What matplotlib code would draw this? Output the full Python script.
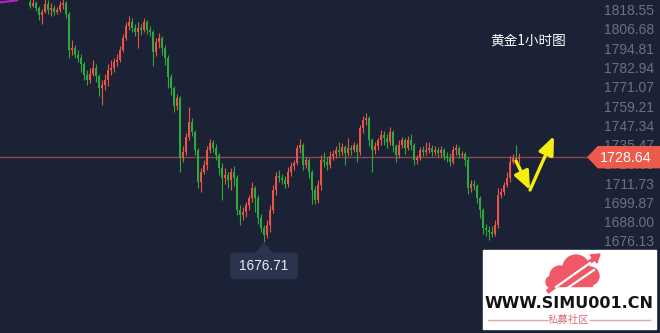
import matplotlib
matplotlib.use('Agg')
import matplotlib.pyplot as plt
import numpy as np
from matplotlib.patches import Polygon, FancyBboxPatch, Rectangle, Circle, FancyArrowPatch

# ---------------- data ----------------
first_open = 1824.2
closes = [1821.7, 1823.6, 1820.5, 1816.1, 1818.0, 1822.9, 1819.2, 1820.5, 1818.0, 1819.2,
          1822.3, 1823.6, 1816.7, 1794.6, 1795.9, 1791.5, 1789.7, 1786.0, 1779.2, 1776.2,
          1779.8, 1783.6, 1778.6, 1771.3, 1773.1, 1776.2, 1782.3, 1783.6, 1787.3, 1788.5,
          1794.6, 1802.0, 1809.4, 1811.9, 1808.2, 1805.7, 1808.2, 1806.9, 1811.9, 1806.9,
          1805.7, 1793.4, 1799.6, 1802.0, 1795.9, 1789.7, 1778.0, 1771.3, 1760.2, 1765.1,
          1728.2, 1731.9, 1741.1, 1750.3, 1744.2, 1733.1, 1713.4, 1719.6, 1723.8, 1733.1,
          1737.4, 1734.3, 1730.0, 1721.9, 1715.7, 1717.7, 1714.6, 1719.6, 1715.7, 1696.1,
          1693.0, 1694.9, 1699.2, 1703.6, 1709.7, 1703.6, 1691.2, 1685.1, 1680.7, 1686.9,
          1696.1, 1708.5, 1717.1, 1715.9, 1714.6, 1712.1, 1719.6, 1723.2, 1725.1, 1734.3,
          1736.1, 1723.8, 1726.9, 1719.6, 1708.5, 1702.3, 1711.5, 1726.9, 1725.7, 1723.8,
          1729.4, 1730.6, 1733.1, 1731.9, 1735.0, 1731.3, 1734.3, 1733.1, 1736.1, 1731.9,
          1746.6, 1751.5, 1752.8, 1739.2, 1733.1, 1735.5, 1739.2, 1742.3, 1740.5, 1738.0,
          1744.2, 1735.5, 1730.0, 1736.1, 1739.2, 1734.3, 1739.2, 1736.1, 1726.9, 1728.2,
          1733.1, 1731.9, 1733.1, 1734.3, 1731.9, 1733.1, 1731.3, 1733.1, 1729.4, 1728.2,
          1725.7, 1733.1, 1734.3, 1730.0, 1730.6, 1726.9, 1709.7, 1712.1, 1710.9, 1703.6,
          1696.1, 1685.1, 1683.8, 1682.6, 1681.3, 1686.9, 1705.4, 1707.3, 1711.5, 1715.7,
          1725.7, 1728.2, 1727.6, 1728.64]
highs = [1826.6, 1827.2, 1824.8, 1821.7, 1819.9, 1826.6, 1825.4, 1823.6, 1822.3, 1821.1,
         1824.8, 1826.6, 1824.8, 1818.0, 1800.8, 1797.7, 1794.6, 1792.1, 1787.3, 1782.3,
         1783.6, 1788.5, 1786.0, 1779.8, 1776.2, 1779.8, 1786.0, 1788.5, 1789.7, 1792.1,
         1797.1, 1804.5, 1811.9, 1815.5, 1814.3, 1810.6, 1811.9, 1810.6, 1814.3, 1813.1,
         1809.4, 1806.9, 1802.0, 1805.1, 1803.2, 1797.7, 1791.5, 1779.8, 1772.5, 1767.5,
         1766.3, 1735.5, 1743.6, 1759.5, 1752.8, 1745.4, 1734.3, 1722.0, 1726.9, 1735.5,
         1739.8, 1739.2, 1736.7, 1731.3, 1725.1, 1722.0, 1719.6, 1722.0, 1723.2, 1717.7,
         1699.2, 1698.0, 1701.1, 1705.4, 1713.4, 1710.9, 1705.4, 1693.7, 1686.9, 1690.0,
         1699.2, 1711.5, 1719.6, 1720.8, 1718.3, 1717.1, 1722.6, 1725.7, 1726.9, 1736.1,
         1739.8, 1737.4, 1728.8, 1728.2, 1720.8, 1710.9, 1714.6, 1730.0, 1731.9, 1728.8,
         1732.5, 1733.1, 1735.5, 1738.0, 1737.4, 1736.1, 1740.5, 1736.1, 1738.0, 1737.4,
         1748.5, 1754.0, 1755.8, 1754.0, 1740.5, 1738.0, 1740.5, 1745.4, 1744.8, 1742.9,
         1747.2, 1745.4, 1736.7, 1739.2, 1741.1, 1740.5, 1741.7, 1742.9, 1737.4, 1730.0,
         1734.9, 1735.5, 1738.0, 1738.0, 1736.1, 1735.5, 1734.9, 1735.5, 1734.3, 1731.9,
         1731.3, 1735.5, 1736.7, 1735.5, 1732.5, 1731.9, 1728.8, 1714.6, 1714.6, 1712.1,
         1704.8, 1697.4, 1687.5, 1686.3, 1686.3, 1690.0, 1709.7, 1709.7, 1713.4, 1719.6,
         1729.4, 1730.6, 1736.1, 1731.3]
lows = [1820.5, 1821.1, 1818.6, 1813.1, 1810.6, 1817.4, 1816.7, 1815.5, 1816.1, 1816.7,
        1818.0, 1819.9, 1814.3, 1789.7, 1791.5, 1789.7, 1787.3, 1781.1, 1776.2, 1773.1,
        1774.3, 1778.6, 1775.0, 1766.3, 1760.8, 1770.0, 1772.5, 1779.2, 1781.1, 1784.8,
        1787.3, 1793.4, 1800.8, 1806.9, 1805.7, 1803.2, 1795.9, 1803.8, 1805.7, 1804.5,
        1803.2, 1784.8, 1790.9, 1795.9, 1791.5, 1785.4, 1771.3, 1766.9, 1756.5, 1757.7,
        1719.6, 1725.7, 1730.0, 1739.2, 1741.7, 1730.0, 1709.7, 1707.3, 1718.3, 1720.8,
        1731.3, 1731.9, 1726.9, 1717.7, 1702.3, 1712.1, 1709.7, 1708.5, 1710.9, 1693.0,
        1686.9, 1690.0, 1691.8, 1696.1, 1701.1, 1694.9, 1687.5, 1682.6, 1676.71, 1678.9,
        1682.6, 1694.3, 1705.4, 1713.4, 1712.1, 1709.7, 1710.3, 1717.1, 1720.8, 1723.8,
        1731.3, 1720.8, 1722.0, 1715.9, 1699.8, 1699.8, 1700.5, 1708.5, 1722.6, 1720.8,
        1722.0, 1726.9, 1728.2, 1729.4, 1730.0, 1723.8, 1729.4, 1730.0, 1731.9, 1725.7,
        1730.0, 1743.6, 1748.5, 1735.5, 1719.6, 1730.6, 1733.1, 1736.1, 1736.1, 1734.3,
        1736.1, 1731.9, 1725.7, 1728.2, 1734.3, 1730.6, 1733.1, 1733.1, 1723.8, 1724.5,
        1726.9, 1729.4, 1730.0, 1731.3, 1729.4, 1730.0, 1728.8, 1728.8, 1726.9, 1725.7,
        1723.2, 1724.5, 1730.0, 1728.2, 1728.2, 1723.2, 1706.0, 1707.3, 1708.5, 1700.5,
        1691.2, 1681.3, 1680.1, 1677.7, 1679.5, 1680.1, 1685.1, 1703.6, 1705.4, 1710.3,
        1713.4, 1724.5, 1725.1, 1725.1]
price_ticks = [1818.55, 1806.68, 1794.81, 1782.94, 1771.07, 1759.21, 1747.34,
               1735.47, 1723.60, 1711.73, 1699.87, 1688.00, 1676.13]
last_price = 1728.64
low_price = 1676.71
low_index = 78
title = "黄金1小时图"
site_text = "WWW.SIMU001.CN"
site_sub = "私募社区"

# ---------------- style ----------------
BG = '#1c2235'
UP = '#ec5446'
DOWN = '#2daa3b'
W, H = 660, 333
Y_TOP, Y_BOT = 1825.4, 1620.4

fig = plt.figure(figsize=(W / 100, H / 100), dpi=100)
fig.patch.set_facecolor(BG)
ax = fig.add_axes([0, 0, 1, 1])
ax.set_facecolor(BG)
ax.set_xlim(-10, 210)
ax.set_ylim(Y_BOT, Y_TOP)
ax.axis('off')

c = np.array(closes)
o = np.array([first_open] + closes[:-1])
h = np.maximum(np.array(highs), np.maximum(o, c))
l = np.minimum(np.array(lows), np.minimum(o, c))
idx = np.arange(len(c))
cols = np.where(c >= o, UP, DOWN)

ax.axhline(last_price, color='#8a474d', lw=1.0, zorder=1)
ax.vlines(idx, l, h, colors=cols, lw=0.8, zorder=2)
ax.bar(idx, np.maximum(np.abs(c - o), 0.5), bottom=np.minimum(o, c), width=0.85,
       color=cols, linewidth=0, zorder=3)

# purple trend line fragment at top-left
ax.plot([-10, -4.3], [1823.9, 1825.2], color='#c21bd6', lw=1.5, zorder=2)

# ---------------- overlay in pixel coordinates ----------------
ov = fig.add_axes([0, 0, 1, 1])
ov.set_xlim(0, W)
ov.set_ylim(H, 0)
ov.axis('off')
ov.patch.set_alpha(0)


def ypx(p):
    return (Y_TOP - p) / (Y_TOP - Y_BOT) * H


def xpx(i):
    return (i + 10) / 220 * W


for p in price_ticks:
    ov.text(654, ypx(p), f"{p:.2f}", ha='right', va='center', fontsize=10,
            color='#6a7182', family='Liberation Sans', zorder=2)

# last price tag
yc = ypx(last_price)
ov.add_patch(Polygon([(588, yc), (598, yc - 10.5), (660, yc - 10.5), (660, yc + 10.5),
                      (598, yc + 10.5)], closed=True, color='#ec5a4b', zorder=5))
ov.text(626, yc + 0.5, f"{last_price:.2f}", ha='center', va='center', fontsize=10.3,
        color='white', family='Liberation Sans', zorder=6)

# low label
lx, ly = xpx(low_index), ypx(low_price)
ov.add_patch(Polygon([(lx, ly + 1.5), (lx - 8, ly + 11.5), (lx + 8, ly + 11.5)],
                     closed=True, color='#2a344e', zorder=5))
ov.add_patch(FancyBboxPatch((231, ly + 11.5), 66, 25.5,
                            boxstyle='round,pad=0,rounding_size=2.5',
                            color='#2a344e', zorder=5))
ov.text(264, ly + 24.5, f"{low_price:.2f}", ha='center', va='center', fontsize=9.8,
        color='#eceef3', family='Liberation Sans', zorder=6)

# title
ov.text(528, 41, title, ha='center', va='center', fontsize=9.8, color='white',
        family=['Noto Sans CJK SC', 'DejaVu Sans'], zorder=6)

# yellow arrows
for (x0, y0), (x1, y1) in [((516, 161), (530, 190)), ((530, 190), (554, 136))]:
    ov.add_patch(FancyArrowPatch((x0, y0), (x1, y1),
                                 arrowstyle='-|>,head_length=1.0,head_width=0.42',
                                 mutation_scale=11, color='#f4ee10', lw=2.4,
                                 shrinkA=0, shrinkB=0, zorder=6))

# watermark logo
ov.add_patch(Rectangle((483, 250), 173, 79, color='white', zorder=7))
for (cx, cy, r) in [(560, 276, 10), (576, 268, 13), (590, 276, 9), (552, 282, 6)]:
    ov.add_patch(Circle((cx, cy), r, color='#f05868', zorder=8))
ov.add_patch(Rectangle((552, 276), 40, 10, color='#f05868', zorder=8))
ov.plot([547, 598], [292, 256], color='#f05868', lw=3.2, zorder=9, solid_capstyle='butt')
ov.plot([556, 590], [287, 263], color='white', lw=1.6, zorder=10)
ov.plot([566, 594], [289, 270], color='white', lw=1.6, zorder=10)
ov.add_patch(Polygon([(600, 254), (590, 255), (597, 263)], closed=True,
                     color='#f05868', zorder=10))
ov.text(569, 303, site_text, ha='center', va='center', fontsize=11.5,
        fontweight='bold', color='#141414', family='DejaVu Sans', zorder=9)
ov.plot([488, 547], [320, 320], color='#e8a2ab', lw=1, zorder=9)
ov.plot([590, 650], [320, 320], color='#e8a2ab', lw=1, zorder=9)
ov.text(568, 320, site_sub, ha='center', va='center', fontsize=7.5, color='#d9707d',
        family=['Noto Sans CJK SC', 'DejaVu Sans'], zorder=9)

fig.savefig('out.png', dpi=100, facecolor=BG)
